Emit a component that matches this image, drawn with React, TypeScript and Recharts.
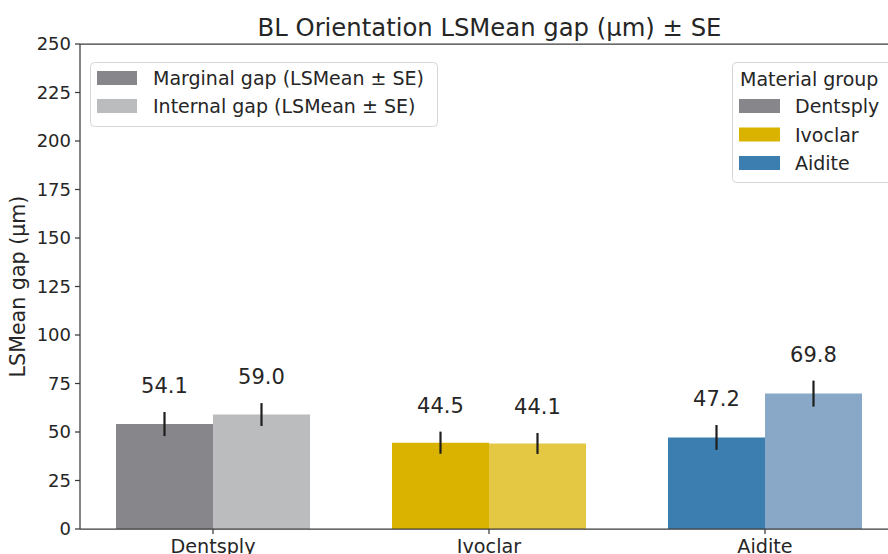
import React from 'react';
import { BarChart, Bar, XAxis, YAxis, ErrorBar, LabelList, Legend, Cell, ReferenceLine } from 'recharts';

const categories = ['Dentsply', 'Ivoclar', 'Aidite'];
const marginalMeans = [54.1, 44.5, 47.2];
const internalMeans = [59.0, 44.1, 69.8];
const marginalSE = [6.2, 5.7, 6.4];
const internalSE = [5.9, 5.4, 6.7];
const yTicks = [0, 25, 50, 75, 100, 125, 150, 175, 200, 225, 250];
const marginalColors = ['#87878b', '#d9b300', '#3d7eb1'];
const internalColors = ['#bbbcbe', '#e4c742', '#89a7c6'];
const seriesLegend = ['Marginal gap (LSMean \u00b1 SE)', 'Internal gap (LSMean \u00b1 SE)'];
const groupLegendTitle = 'Material group';
const chartTitle = 'BL Orientation LSMean gap (\u00b5m) \u00b1 SE';
const yLabel = 'LSMean gap (\u00b5m)';

const FONT = 'DejaVu Sans, Verdana, sans-serif';
const TEXT = '#262626';
const AXIS = '#3a3a3a';

const data = categories.map((c, i) => ({
  category: c,
  marginal: marginalMeans[i],
  internal: internalMeans[i],
  marginalSE: marginalSE[i],
  internalSE: internalSE[i],
}));

const makeLabel = (seArr: number[]) => (props: any) => {
  const { x, y, width, height, value, index } = props;
  const v = Number(value);
  const i = typeof index === 'number' ? index : 0;
  const se = seArr[i];
  const ppu = Number(height) / v;
  const ty = Number(y) - se * ppu - 19;
  return (
    <text x={Number(x) + Number(width) / 2} y={ty} textAnchor="middle" fontSize={21} fill={TEXT} fontFamily={FONT}>
      {v.toFixed(1)}
    </text>
  );
};

const LegendOverlay = () => (
  <svg width={888} height={554} style={{ position: 'absolute', left: 0, top: 0 }}>
    <text x={489.5} y={36} textAnchor="middle" fontSize={24.3} fill={TEXT} fontFamily={FONT}>
      {chartTitle}
    </text>
    <rect x={90.5} y={62.5} width={347} height={64} rx={4} fill="#ffffff" fillOpacity={0.8} stroke="#d6d6d6" />
    {seriesLegend.map((s, i) => (
      <g key={s}>
        <rect x={97} y={71 + i * 28} width={40} height={14} fill={i === 0 ? marginalColors[0] : internalColors[0]} />
        <text x={153} y={85 + i * 28} fontSize={19} fill={TEXT} fontFamily={FONT}>
          {s}
        </text>
      </g>
    ))}
    <rect x={732.5} y={62.5} width={170} height={120} rx={4} fill="#ffffff" fillOpacity={0.8} stroke="#d6d6d6" />
    <text x={740} y={86} fontSize={19} fill={TEXT} fontFamily={FONT}>
      {groupLegendTitle}
    </text>
    {categories.map((c, i) => (
      <g key={c}>
        <rect x={739} y={99 + i * 28.5} width={41} height={14} fill={marginalColors[i]} />
        <text x={795} y={113 + i * 28.5} fontSize={19} fill={TEXT} fontFamily={FONT}>
          {c}
        </text>
      </g>
    ))}
  </svg>
);

export default function App() {
  return (
    <div style={{ position: 'absolute', left: 0, top: 0, width: 888, height: 554, overflow: 'hidden', background: '#fff' }}>
      <BarChart
        width={910}
        height={554}
        data={data}
        margin={{ top: 44, right: 11, left: 0, bottom: 0 }}
        barGap={0}
      >
        <XAxis
          dataKey="category"
          height={25}
          padding={{ left: -5, right: -4 }}
          tickSize={5}
          tickMargin={5}
          tick={{ fontSize: 19.2, fill: TEXT, fontFamily: FONT }}
          axisLine={{ stroke: AXIS, strokeWidth: 1.25 }}
          tickLine={{ stroke: AXIS, strokeWidth: 1.25 }}
        />
        <YAxis
          width={80}
          domain={[0, 250]}
          ticks={yTicks}
          interval={0}
          tickSize={5}
          tickMargin={4}
          tick={{ fontSize: 18, fill: TEXT, fontFamily: FONT }}
          axisLine={{ stroke: AXIS, strokeWidth: 1.25 }}
          tickLine={{ stroke: AXIS, strokeWidth: 1.25 }}
          label={{
            value: yLabel,
            angle: -90,
            position: 'insideLeft',
            offset: 18,
            style: { textAnchor: 'middle', fontSize: 20.6, fill: TEXT, fontFamily: FONT },
          }}
        />
        <ReferenceLine y={250} stroke={AXIS} strokeWidth={1.25} />
        <Bar dataKey="marginal" barSize={97} isAnimationActive={false}>
          {data.map((d, i) => (
            <Cell key={d.category} fill={marginalColors[i]} />
          ))}
          <ErrorBar dataKey="marginalSE" width={0} stroke="#1e1e1e" strokeWidth={2.2} direction="y" />
          <LabelList dataKey="marginal" content={makeLabel(marginalSE)} />
        </Bar>
        <Bar dataKey="internal" barSize={97} isAnimationActive={false}>
          {data.map((d, i) => (
            <Cell key={d.category} fill={internalColors[i]} />
          ))}
          <ErrorBar dataKey="internalSE" width={0} stroke="#1e1e1e" strokeWidth={2.2} direction="y" />
          <LabelList dataKey="internal" content={makeLabel(internalSE)} />
        </Bar>
        <Legend
          layout="vertical"
          align="center"
          verticalAlign="middle"
          wrapperStyle={{ left: 0, top: 0, width: 888, height: 554, pointerEvents: 'none' }}
          content={() => <LegendOverlay />}
        />
      </BarChart>
    </div>
  );
}
